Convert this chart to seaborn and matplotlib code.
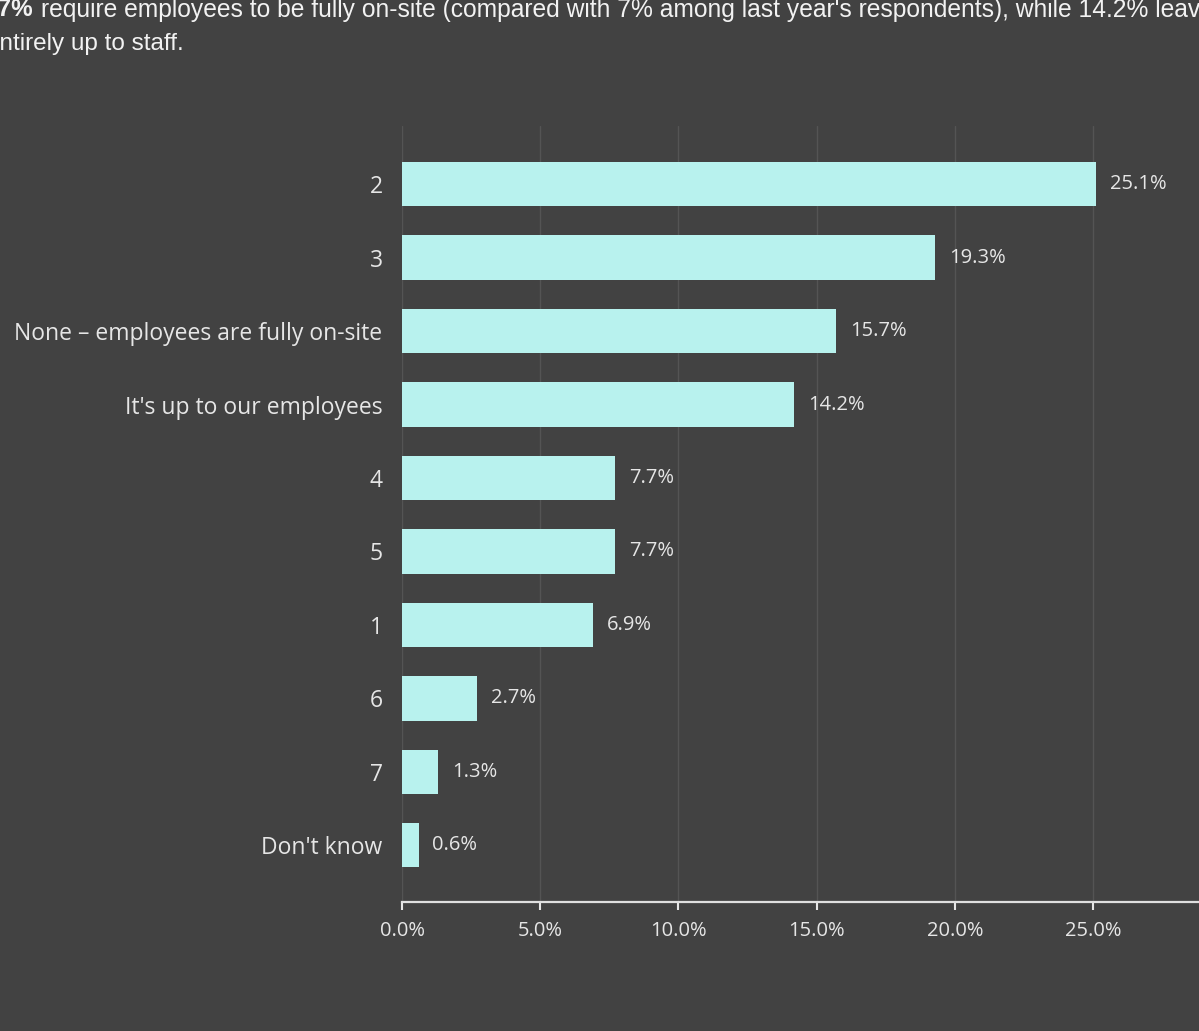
import matplotlib
matplotlib.use("Agg")
import matplotlib.pyplot as plt
import seaborn as sns
import pandas as pd

categories = ["2", "3", "None – employees are fully on-site", "It's up to our employees",
              "4", "5", "1", "6", "7", "Don't know"]
values = [25.1, 19.3, 15.7, 14.2, 7.7, 7.7, 6.9, 2.7, 1.3, 0.6]
x_ticks = [0, 5, 10, 15, 20, 25, 30]

BG = "#424242"
BAR = "#b8f2ee"
TXT = "#e6e6e6"

sns.set_theme(style="dark")
plt.rcParams["font.family"] = ["Open Sans", "DejaVu Sans"]

fig = plt.figure(figsize=(11.99, 10.31), dpi=100, facecolor=BG)
ax = fig.add_axes([0.3353, 0.1251, 0.6915, 0.7527])
ax.set_facecolor(BG)

df = pd.DataFrame({"answer": categories, "share": values})
sns.barplot(data=df, x="share", y="answer", orient="h", color=BAR,
            saturation=1, width=0.6, linewidth=0, ax=ax)

ax.set_xlim(0, 30)
ax.set_ylim(len(categories) - 0.23, -0.79)
ax.set_xticks(x_ticks)
ax.set_xticklabels([f"{t:.1f}%" for t in x_ticks])
ax.set_xlabel("")
ax.set_ylabel("")

ax.grid(axis="x", color="#545454", linewidth=1)
ax.grid(axis="y", visible=False)
ax.set_axisbelow(True)

for s in ["top", "right", "left"]:
    ax.spines[s].set_visible(False)
ax.spines["bottom"].set_color("#e0e0e0")
ax.spines["bottom"].set_linewidth(1.6)

ax.tick_params(axis="x", colors=TXT, labelsize=14.5, length=6, width=1.5,
               direction="out", pad=8, bottom=True)
ax.tick_params(axis="y", colors=TXT, labelsize=16.5, length=0, pad=14)
for lab in ax.get_xticklabels() + ax.get_yticklabels():
    lab.set_color(TXT)

for cont in ax.containers:
    ax.bar_label(cont, labels=[f"{v:.1f}%" for v in values], padding=10,
                 color=TXT, fontsize=14.5)

# intro sentence above the chart
fig.text(33 / 1199, 1 - 10 / 1031, "15.7%", ha="right", va="center",
         fontsize=17.5, fontweight="bold", color="#f2f2f2",
         family="Liberation Sans")
fig.text(41 / 1199, 1 - 10 / 1031,
         "require employees to be fully on-site (compared with 7% among last year's respondents), while 14.2% leave it",
         ha="left", va="center", fontsize=17.7, color="#f2f2f2",
         family="Liberation Sans")
fig.text(-14 / 1199, 1 - 44 / 1031, "entirely up to staff.", ha="left",
         va="center", fontsize=17.5, color="#f2f2f2", family="Liberation Sans")

fig.savefig("out.png", dpi=100, facecolor=BG)
